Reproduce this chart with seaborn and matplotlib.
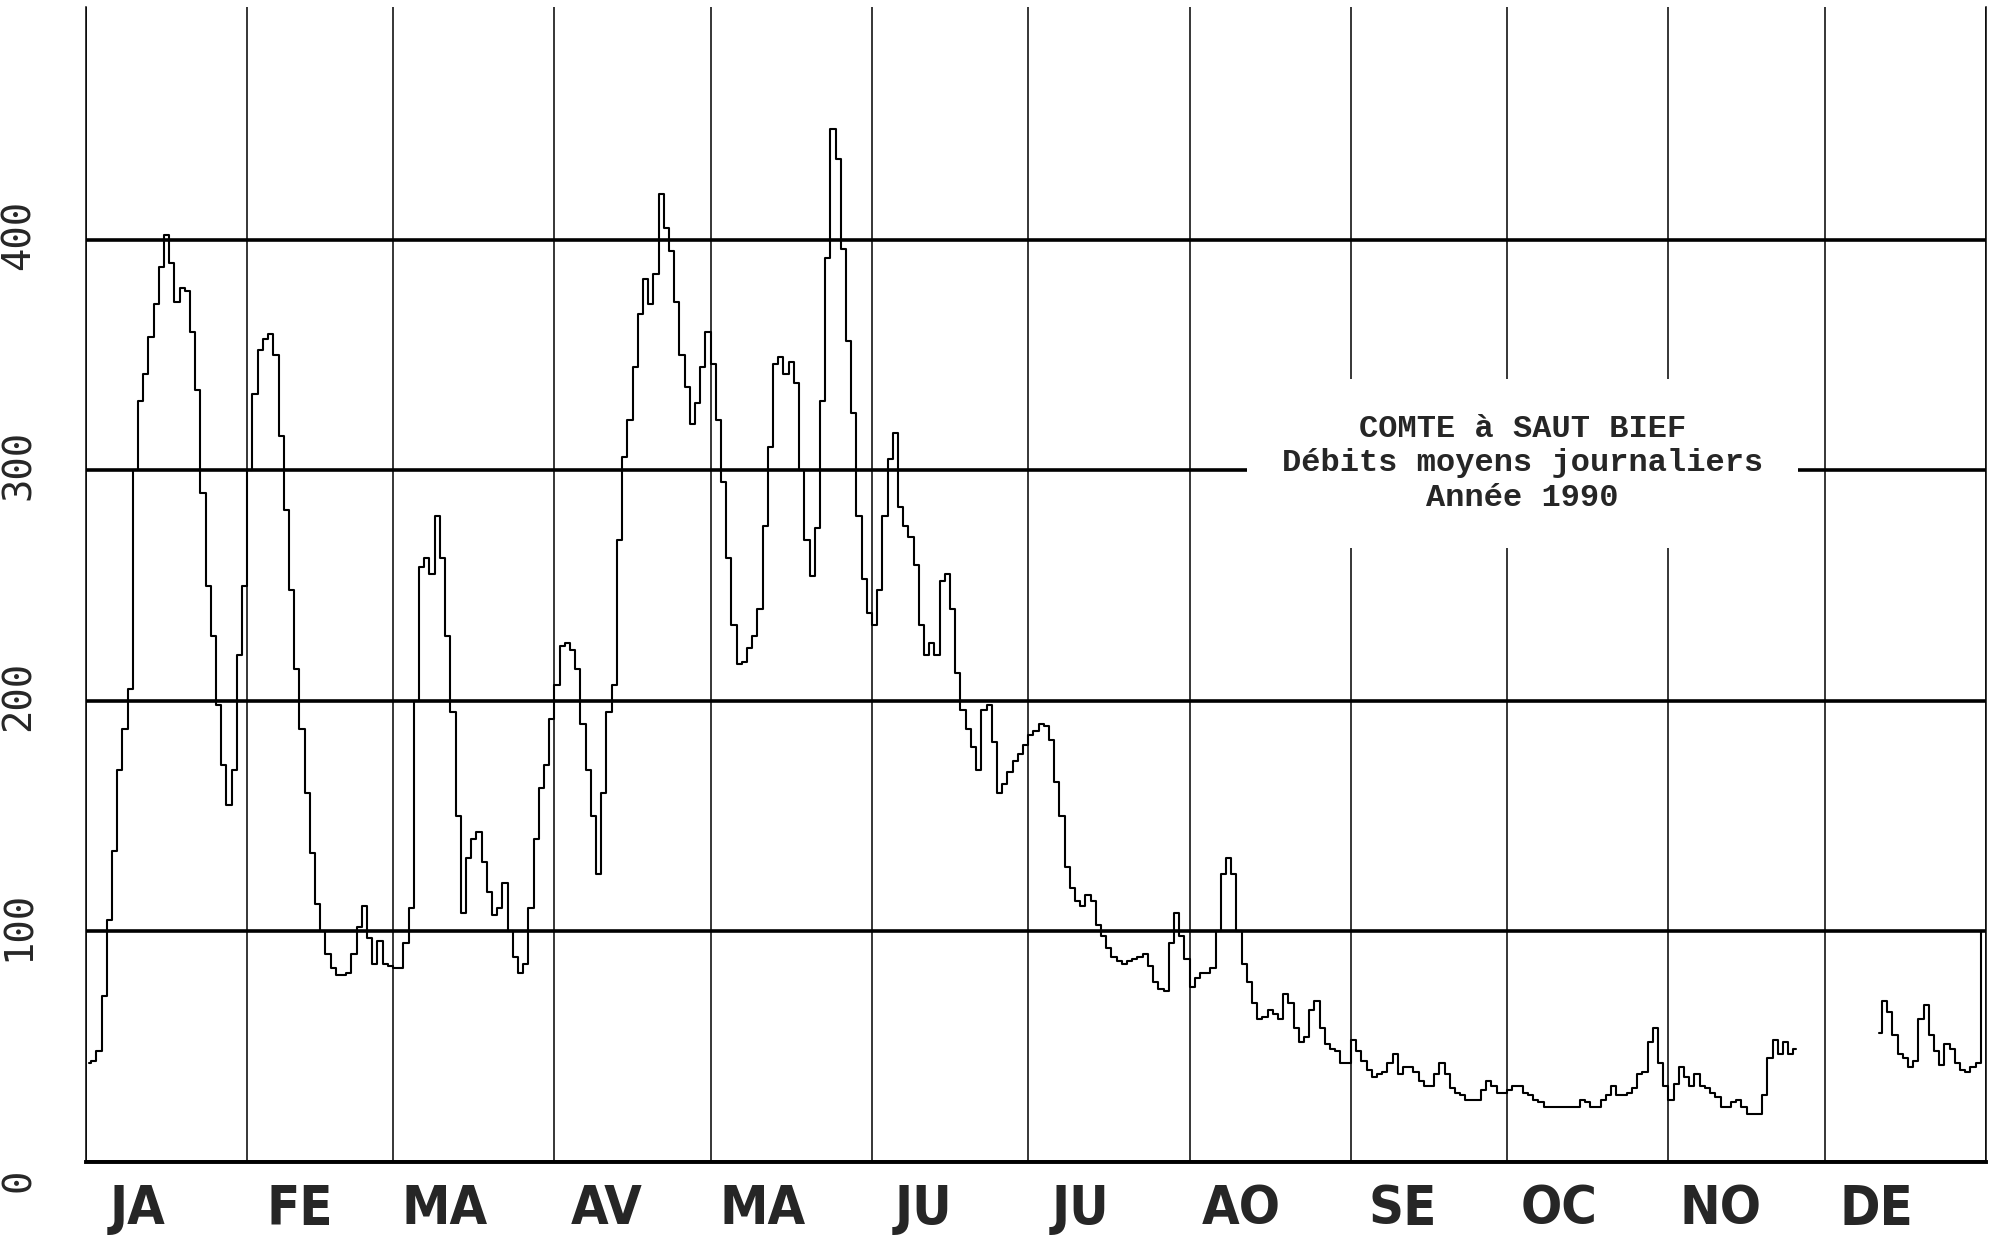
import numpy as np
import pandas as pd
import seaborn as sns
import matplotlib.pyplot as plt
from matplotlib.transforms import ScaledTranslation

# --- data (daily mean flow, 1990) ---
month_labels = ['JA', 'FE', 'MA', 'AV', 'MA', 'JU', 'JU', 'AO', 'SE', 'OC', 'NO', 'DE']
month_days = [31, 28, 31, 30, 31, 30, 31, 31, 30, 31, 30, 31]
y_ticks = [0, 100, 200, 300, 400]
title_lines = ['COMTE à SAUT BIEF', 'Débits moyens journaliers', 'Année 1990']

jan = [43, 44, 48, 72, 105, 135, 170, 188, 205, 300, 330, 342, 358, 372, 388,
       402, 390, 373, 379, 378, 360, 335, 290, 250, 228, 198, 172, 155, 170, 220, 250]
feb = [300, 333, 352, 357, 359, 350, 315, 283, 248, 214, 188, 160, 134, 112,
       100, 90, 84, 81, 81, 82, 90, 102, 111, 97, 86, 96, 86, 85]
mar = [84, 84, 95, 110, 200, 258, 262, 255, 280, 262, 228, 195, 150, 108, 132,
       140, 143, 130, 117, 107, 110, 121, 100, 89, 82, 86, 110, 140, 162, 172, 192]
apr = [207, 224, 225, 222, 214, 190, 170, 150, 125, 160, 195, 207, 270, 306, 322,
       345, 368, 383, 372, 385, 420, 405, 395, 373, 350, 336, 320, 329, 345, 360]
may = [346, 322, 295, 262, 233, 216, 217, 223, 228, 240, 276, 310, 346, 349, 342,
       347, 338, 300, 270, 254, 275, 330, 392, 448, 435, 396, 356, 325, 280, 253, 238]
jun = [233, 248, 280, 305, 316, 284, 276, 271, 259, 233, 220, 225, 220, 252, 255,
       240, 212, 196, 188, 180, 170, 196, 198, 182, 160, 164, 169, 174, 177, 181]
jul = [185, 187, 190, 189, 183, 165, 150, 128, 119, 113, 111, 116, 113, 103, 98,
       93, 89, 87, 86, 87, 88, 89, 90, 85, 78, 75, 74, 95, 108, 98, 88]
aug = [76, 80, 82, 82, 84, 100, 125, 132, 125, 100, 86, 78, 69, 62, 63,
       66, 64, 62, 73, 69, 58, 52, 54, 66, 70, 58, 51, 49, 48, 43, 43]
sep = [53, 48, 44, 40, 37, 38, 39, 43, 47, 38, 41, 41, 39, 35, 33,
       33, 38, 43, 38, 32, 30, 29, 27, 27, 27, 31, 35, 33, 30, 30]
oct_ = [31, 33, 33, 30, 29, 27, 26, 24, 24, 24, 24, 24, 24, 24, 27,
        26, 24, 24, 27, 29, 33, 29, 29, 30, 32, 38, 39, 52, 58, 43, 33]
nov = [27, 34, 41, 37, 33, 38, 33, 32, 30, 28, 24, 24, 26, 27, 24,
       21, 21, 21, 29, 45, 53, 47, 52, 47, 49] + [np.nan] * 5
dec = [np.nan] * 10 + [56, 70, 65, 55, 47, 45, 41, 44, 62, 68, 55,
                       48, 42, 51, 49, 43, 40, 39, 41, 43, 100]

flow = np.array(jan + feb + mar + apr + may + jun + jul + aug + sep + oct_ + nov + dec, dtype=float)
df = pd.DataFrame({'day': np.arange(len(flow)) + 0.5, 'flow': flow})
df['segment'] = df['flow'].isna().cumsum()
df = df.dropna()

month_starts = np.cumsum([0] + month_days)

# --- style ---
sns.set_style("white")
plt.rcParams['font.family'] = ['DejaVu Sans']

fig = plt.figure(figsize=(19.98, 12.45), dpi=100)
ax = fig.add_axes([0.043, 0.0667, 0.951, 0.9277])

sns.lineplot(data=df, x='day', y='flow', units='segment', estimator=None,
             color='black', lw=1.5, drawstyle='steps-mid', ax=ax,
             legend=False, zorder=3)

ax.set_xlim(0, 365)
ax.set_ylim(0, 501)
ax.set_xlabel('')
ax.set_ylabel('')

# month boundaries
ax.set_xticks(month_starts)
ax.set_xticklabels([])
ax.set_xticks(month_starts[:-1] + 10, minor=True)
ax.set_xticklabels(month_labels, minor=True, fontsize=39, fontweight='bold',
                   fontstretch='condensed', family=['DejaVu Sans'])
ax.tick_params(axis='x', which='major', length=13.7, width=1.1, direction='out', color='black')
ax.tick_params(axis='x', which='minor', length=0, pad=15)

ax.set_yticks(y_ticks)
ax.set_yticklabels([str(v) for v in y_ticks], rotation=90, va='bottom',
                   fontsize=28, family=['DejaVu Sans Mono'])
ax.tick_params(axis='y', length=11.5, width=2.5, direction='out', color='black', pad=23)

ax.grid(axis='x', which='major', color='black', lw=1.1)
ax.grid(axis='y', which='major', color='black', lw=2.6)
ax.set_axisbelow(True)

ax.spines['top'].set_visible(False)
for side in ['left', 'right']:
    ax.spines[side].set_color('black')
    ax.spines[side].set_linewidth(1.1)
ax.spines['bottom'].set_color('black')
ax.spines['bottom'].set_linewidth(2.8)

# shift the rotated y labels down, as on the original plot
for lab in ax.get_yticklabels():
    lab.set_transform(lab.get_transform() + ScaledTranslation(0, -30 / 100, fig.dpi_scale_trans))

ax.text(276, 303, '\n'.join(title_lines), ha='center', va='center',
        family=['Liberation Mono', 'DejaVu Sans Mono'], fontweight='bold', fontsize=23,
        linespacing=1.2, zorder=5,
        bbox=dict(boxstyle='square,pad=1.1', fc='white', ec='none'))

fig.savefig('out.png', dpi=100)
plt.close(fig)
